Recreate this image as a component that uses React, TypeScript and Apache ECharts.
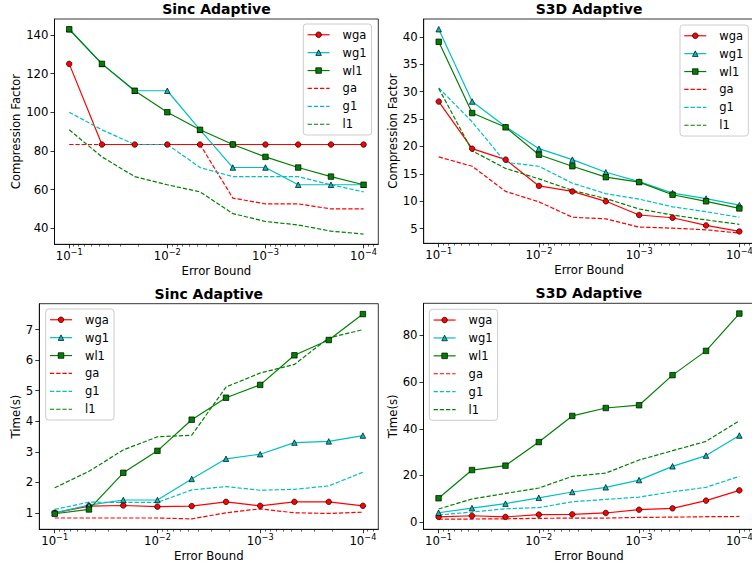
import React, { useEffect, useRef } from 'react';
import * as echarts from 'echarts';

// ---------- data ----------
const errorBounds = [0.1, 0.0464, 0.0215, 0.01, 0.00464, 0.00215, 0.001, 0.000464, 0.000215, 0.0001];
const majorTicks = [0.1, 0.01, 0.001, 0.0001];
const minorTicks = [
  0.09, 0.08, 0.07, 0.06, 0.05, 0.04, 0.03, 0.02,
  0.009, 0.008, 0.007, 0.006, 0.005, 0.004, 0.003, 0.002,
  0.0009, 0.0008, 0.0007, 0.0006, 0.0005, 0.0004, 0.0003, 0.0002,
  0.00009, 0.00008,
];
const seriesNames = ['wga', 'wg1', 'wl1', 'ga', 'g1', 'l1'];
const panelTitles = ['Sinc Adaptive', 'S3D Adaptive', 'Sinc Adaptive', 'S3D Adaptive'];
const yAxisNames = ['Compression Factor', 'Compression Factor', 'Time(s)', 'Time(s)'];
const xAxisName = 'Error Bound';
const yTickValues = [
  [40, 60, 80, 100, 120, 140],
  [5, 10, 15, 20, 25, 30, 35, 40],
  [1, 2, 3, 4, 5, 6, 7],
  [0, 20, 40, 60, 80],
];

// Sinc Adaptive - compression factor
const sincCfWga = [125, 83.3, 83.3, 83.3, 83.3, 83.3, 83.3, 83.3, 83.3, 83.3];
const sincCfWg1 = [142.9, 125, 111.1, 111.1, 90.9, 71.4, 71.4, 62.5, 62.5, 62.5];
const sincCfWl1 = [142.9, 125, 111.1, 100, 90.9, 83.3, 76.9, 71.4, 66.7, 62.5];
const sincCfGa = [83.3, 83.3, 83.3, 83.3, 83.3, 55.6, 52.6, 52.6, 50, 50];
const sincCfG1 = [100, 90.9, 83.3, 83.3, 71.4, 66.7, 66.7, 66.7, 62.5, 58.8];
const sincCfL1 = [90.9, 76.9, 66.7, 62.5, 58.8, 47.6, 43.5, 41.7, 38.5, 37];

// S3D Adaptive - compression factor
const s3dCfWga = [28.2, 19.6, 17.6, 12.8, 11.8, 10.0, 7.5, 7.0, 5.6, 4.5];
const s3dCfWg1 = [41.4, 28.2, 23.6, 19.6, 17.6, 15.3, 13.6, 11.5, 10.5, 9.3];
const s3dCfWl1 = [39.1, 26.1, 23.5, 18.5, 16.4, 14.4, 13.5, 11.2, 10.0, 8.7];
const s3dCfGa = [18.1, 16.4, 11.8, 9.9, 7.1, 6.8, 5.3, 5.1, 4.8, 4.2];
const s3dCfG1 = [30.7, 24.5, 17.1, 16.4, 13.3, 11.4, 10.4, 9.0, 8.1, 7.1];
const s3dCfL1 = [30.6, 19.2, 16.0, 14.1, 12.0, 10.5, 8.6, 7.5, 6.6, 5.8];

// Sinc Adaptive - time
const sincTWga = [1.0, 1.22, 1.24, 1.2, 1.22, 1.36, 1.23, 1.36, 1.36, 1.23];
const sincTWg1 = [1.0, 1.25, 1.42, 1.42, 2.11, 2.77, 2.92, 3.3, 3.34, 3.53];
const sincTWl1 = [0.97, 1.11, 2.31, 3.03, 4.05, 4.77, 5.19, 6.16, 6.66, 7.51];
const sincTGa = [0.83, 0.83, 0.83, 0.83, 0.8, 1.0, 1.13, 1.0, 0.98, 1.02];
const sincTG1 = [1.11, 1.35, 1.34, 1.34, 1.75, 1.86, 1.74, 1.77, 1.88, 2.33];
const sincTL1 = [1.82, 2.36, 3.06, 3.49, 3.54, 5.12, 5.58, 5.86, 6.73, 7.0];

// S3D Adaptive - time
const s3dTWga = [2.2, 2.7, 2.2, 3.2, 3.3, 3.9, 5.3, 5.9, 9.2, 13.6];
const s3dTWg1 = [4.0, 6.0, 7.9, 10.4, 12.9, 14.9, 18.0, 23.9, 28.5, 37.1];
const s3dTWl1 = [10.2, 22.3, 24.2, 34.3, 45.5, 48.9, 50.1, 63.0, 73.4, 89.4];
const s3dTGa = [1.3, 1.3, 1.4, 1.6, 1.7, 1.7, 2.0, 2.1, 2.3, 2.4];
const s3dTG1 = [3.0, 4.3, 5.7, 6.2, 8.7, 9.7, 10.7, 13.0, 14.9, 19.6];
const s3dTL1 = [5.6, 9.9, 12.3, 14.6, 19.6, 21.0, 26.6, 30.6, 34.6, 43.4];

const panelData = [
  [sincCfWga, sincCfWg1, sincCfWl1, sincCfGa, sincCfG1, sincCfL1],
  [s3dCfWga, s3dCfWg1, s3dCfWl1, s3dCfGa, s3dCfG1, s3dCfL1],
  [sincTWga, sincTWg1, sincTWl1, sincTGa, sincTG1, sincTL1],
  [s3dTWga, s3dTWg1, s3dTWl1, s3dTGa, s3dTG1, s3dTL1],
];

// ---------- layout / style ----------
const FONT = 'DejaVu Sans';
const X_MIN = 7.0795e-5;
const X_MAX = 0.141254;
const PANELS = [
  { left: 54.5, top: 19, width: 323.8, height: 225.3, yMin: 31.7, yMax: 148.2, legendLeft: 303.3, legendTop: 24, yNameGap: 32 },
  { left: 423.7, top: 19, width: 330.7, height: 224.3, yMin: 2.34, yMax: 43.26, legendLeft: 680, legendTop: 25, yNameGap: 25 },
  { left: 39.3, top: 303.7, width: 339, height: 225.6, yMin: 0.46, yMax: 7.85, legendLeft: 45.7, legendTop: 309, yNameGap: 17 },
  { left: 423.5, top: 303.3, width: 330.9, height: 226, yMin: -3.1, yMax: 93.8, legendLeft: 429.3, legendTop: 309.3, yNameGap: 25 },
];
const STYLES: Record<string, any> = {
  wga: { color: '#ff0000', symbol: 'circle', size: 5.5, dashed: false },
  wg1: { color: '#00bfbf', symbol: 'triangle', size: 5.5, dashed: false },
  wl1: { color: '#008000', symbol: 'rect', size: 5.5, dashed: false },
  ga: { color: '#ff0000', dashed: true },
  g1: { color: '#00bfbf', dashed: true },
  l1: { color: '#008000', dashed: true },
};

const fmtX = (v: number) => {
  const e = Math.round(Math.log10(v));
  return `{b|10}{s|${e < 0 ? '\u2212' : ''}${Math.abs(e)}}`;
};

function buildOption() {
  const grid: any[] = [];
  const xAxis: any[] = [];
  const yAxis: any[] = [];
  const series: any[] = [];
  const legend: any[] = [];
  const title: any[] = [];

  PANELS.forEach((p, i) => {
    grid.push({
      left: p.left, top: p.top, width: p.width, height: p.height,
      show: true, borderColor: '#000', borderWidth: 0.8, backgroundColor: 'transparent',
      outerBoundsMode: 'none', containLabel: false,
    });
    xAxis.push({
      type: 'log', logBase: 10, gridIndex: i, min: X_MIN, max: X_MAX, inverse: true, position: 'bottom',
      axisLine: { show: true, onZero: false, lineStyle: { color: '#000', width: 0.8 } },
      axisTick: { show: true, customValues: majorTicks, length: 4, lineStyle: { color: '#000', width: 0.8 } },
      axisLabel: {
        customValues: majorTicks, formatter: fmtX, margin: 4,
        rich: {
          b: { fontSize: 11.7, fontFamily: FONT, color: '#000', lineHeight: 14, verticalAlign: 'bottom' },
          s: { fontSize: 8.2, fontFamily: FONT, color: '#000', lineHeight: 7, verticalAlign: 'top' },
        },
      },
      splitLine: { show: false },
      minorTick: { show: false },
      name: xAxisName, nameLocation: 'middle', nameGap: 21,
      nameTextStyle: { fontSize: 11.7, fontFamily: FONT, color: '#000' },
    });
    xAxis.push({
      type: 'log', logBase: 10, gridIndex: i, min: X_MIN, max: X_MAX, inverse: true, position: 'bottom',
      axisLine: { show: false, onZero: false },
      axisTick: { show: true, customValues: minorTicks, length: 2.3, lineStyle: { color: '#000', width: 0.6 } },
      axisLabel: { show: false },
      splitLine: { show: false },
    });
    yAxis.push({
      type: 'value', gridIndex: i, min: p.yMin, max: p.yMax,
      axisLine: { show: true, onZero: false, lineStyle: { color: '#000', width: 0.8 } },
      axisTick: { show: true, customValues: yTickValues[i], length: 4, lineStyle: { color: '#000', width: 0.8 } },
      axisLabel: { customValues: yTickValues[i], margin: 6, fontSize: 11.7, fontFamily: FONT, color: '#000' },
      splitLine: { show: false },
      name: yAxisNames[i], nameLocation: 'middle', nameGap: p.yNameGap,
      nameTextStyle: { fontSize: 11.7, fontFamily: FONT, color: '#000' },
    });
    title.push({
      text: panelTitles[i], left: p.left + p.width / 2, top: p.top - 17, textAlign: 'center', padding: 0,
      textStyle: { fontSize: 14, fontWeight: 'bold', fontFamily: FONT, color: '#000' },
    });
    legend.push({
      orient: 'vertical', left: p.legendLeft, top: p.legendTop,
      padding: [4.75, 5, 4.75, 3.7], itemWidth: 22, itemHeight: 7, itemGap: 5.9,
      borderColor: '#cccccc', borderWidth: 1, borderRadius: 3, backgroundColor: 'rgba(255,255,255,0.8)',
      selectedMode: false,
      textStyle: { fontSize: 11.5, fontFamily: FONT, color: '#000', lineHeight: 12, padding: [0, 0, 0, 8] },
      itemStyle: { borderWidth: 0.7 },
      lineStyle: { width: 1.2 },
      data: seriesNames.map((n) => (STYLES[n].dashed ? { name: n, itemStyle: { opacity: 0 } } : { name: n })),
    });
    seriesNames.forEach((n, k) => {
      const st = STYLES[n];
      const vals = panelData[i][k];
      series.push({
        type: 'line', name: n, xAxisIndex: i * 2, yAxisIndex: i,
        data: errorBounds.map((x, j) => [x, vals[j]]),
        symbol: st.dashed ? 'none' : st.symbol, symbolSize: st.size || 0, showSymbol: !st.dashed,
        lineStyle: { color: st.color, width: 1.2, type: st.dashed ? [4.3, 1.9] : 'solid' },
        itemStyle: { color: st.color, borderColor: '#000', borderWidth: 0.7 },
        emphasis: { disabled: true }, silent: true,
      });
    });
  });

  return {
    animation: false,
    backgroundColor: '#ffffff',
    textStyle: { fontFamily: FONT },
    title, grid, xAxis, yAxis, legend, series,
  };
}

export default function App() {
  const ref = useRef<HTMLDivElement>(null);
  useEffect(() => {
    if (!ref.current) return;
    const chart = echarts.init(ref.current, undefined, { renderer: 'svg' });
    chart.setOption(buildOption() as any);
    return () => chart.dispose();
  }, []);
  return <div ref={ref} style={{ position: 'absolute', left: 0, top: 0, width: 752, height: 567 }} />;
}
